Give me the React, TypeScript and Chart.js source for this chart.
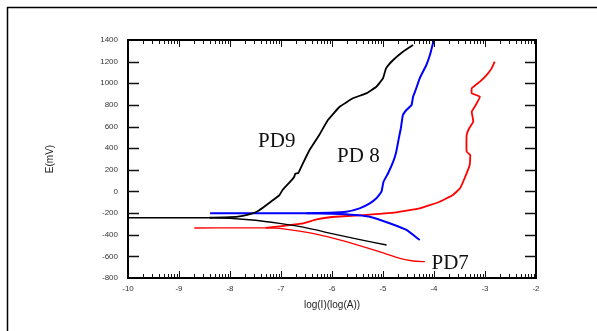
import React, { useEffect, useRef } from "react";
import { Chart, registerables } from "chart.js";

Chart.register(...registerables);

// ---- data (x = log(I), y = E in mV) ----
const pd9Cathodic: [number, number][] = [
  [-10, -243], [-9, -243], [-8.4, -243], [-8.0, -249], [-7.5, -266], [-7.03, -296],
  [-6.54, -333], [-6.05, -385], [-5.5, -440], [-4.93, -495],
];
const pd9Anodic: [number, number][] = [
  [-8.4, -243], [-8.0, -238], [-7.75, -225], [-7.59, -208], [-7.45, -180], [-7.33, -141],
  [-7.2, -95], [-7.03, -33], [-6.97, 13], [-6.8, 100], [-6.74, 136], [-6.72, 165],
  [-6.66, 170], [-6.64, 190], [-6.57, 260], [-6.44, 383], [-6.25, 522], [-6.08, 660],
  [-5.85, 783], [-5.59, 861], [-5.33, 907], [-5.13, 968], [-5.0, 1046], [-4.94, 1138],
  [-4.8, 1215], [-4.61, 1292], [-4.41, 1354],
];
const pd8Anodic: [number, number][] = [
  [-8.39, -202], [-7.5, -202], [-6.5, -201], [-6.05, -197], [-5.72, -187], [-5.46, -156],
  [-5.26, -110], [-5.13, -63], [-5.03, -2], [-4.99, 90], [-4.9, 168], [-4.8, 275],
  [-4.74, 368], [-4.69, 491], [-4.65, 584], [-4.61, 707], [-4.54, 753], [-4.44, 799],
  [-4.41, 876], [-4.36, 938], [-4.28, 1046], [-4.15, 1169], [-4.08, 1261], [-4.02, 1369],
  [-3.99, 1400],
];
const pd8Cathodic: [number, number][] = [
  [-6.5, -202], [-6.0, -205], [-5.72, -211], [-5.26, -233], [-4.87, -294], [-4.54, -356],
  [-4.28, -449],
];
const pd7Cathodic: [number, number][] = [
  [-8.7, -338], [-7.8, -337], [-7.3, -336], [-7.03, -341], [-6.38, -387], [-5.72, -464],
  [-5.07, -557], [-4.67, -618], [-4.41, -643], [-4.18, -649],
];
const pd7Anodic: [number, number][] = [
  [-7.3, -336], [-7.03, -322], [-6.6, -298], [-6.3, -258], [-6.0, -236], [-5.39, -218],
  [-4.74, -193], [-4.28, -156], [-3.89, -95], [-3.63, -33], [-3.49, 29], [-3.4, 122],
  [-3.3, 245], [-3.29, 337], [-3.36, 368], [-3.36, 522], [-3.31, 584], [-3.23, 645],
  [-3.26, 737], [-3.2, 784], [-3.1, 876], [-3.26, 907], [-3.26, 954], [-3.1, 1015],
  [-2.97, 1076], [-2.87, 1138], [-2.81, 1200],
];

const curveLabels = ["PD9", "PD 8", "PD7"];
const curveLabelX = [-7.45, -5.9, -4.05];
const curveLabelY = [462, 323, -667];

const xMin = -10, xMax = -2, xStep = 1;
const yMin = -800, yMax = 1400, yStep = 200;

const xTitle = "log(I)(log(A))";
const yTitle = "E(mV)";

const toPts = (a: [number, number][]) => a.map(([x, y]) => ({ x, y }));

const framePlugin = {
  id: "framePlugin",
  afterDatasetsDraw(chart: any) {
    const { ctx, chartArea: a, scales } = chart;
    const xs = scales.x, ys = scales.y;
    ctx.save();
    // outer page frame
    ctx.strokeStyle = "#000";
    ctx.lineWidth = 1.5;
    ctx.beginPath();
    ctx.moveTo(7.5, 331);
    ctx.lineTo(7.5, 7.5);
    ctx.lineTo(597, 7.5);
    ctx.stroke();
    // plot frame
    ctx.lineWidth = 2;
    ctx.strokeRect(a.left, a.top, a.right - a.left, a.bottom - a.top);
    // y ticks (left & right, inward)
    ctx.lineWidth = 1.5;
    ctx.strokeStyle = "#111";
    for (let v = yMin + yStep; v < yMax; v += yStep) {
      const py = Math.round(ys.getPixelForValue(v)) + 0.5;
      ctx.beginPath();
      ctx.moveTo(a.left, py);
      ctx.lineTo(a.left + 11, py);
      ctx.moveTo(a.right, py);
      ctx.lineTo(a.right - 11, py);
      ctx.stroke();
    }
    // x ticks, log style
    ctx.lineWidth = 1;
    for (let d = xMin; d < xMax; d += xStep) {
      for (let k = 2; k <= 10; k++) {
        const v = d + Math.log10(k);
        const px = Math.round(xs.getPixelForValue(v)) + 0.5;
        const len = k === 10 ? 7 : 4;
        if (k === 10 && v >= xMax) continue;
        ctx.beginPath();
        ctx.moveTo(px, a.bottom);
        ctx.lineTo(px, a.bottom - len);
        ctx.moveTo(px, a.top);
        ctx.lineTo(px, a.top + len);
        ctx.stroke();
      }
    }
    // curve labels
    ctx.fillStyle = "#111";
    ctx.font = "21px 'Liberation Serif', 'Times New Roman', serif";
    ctx.textAlign = "left";
    ctx.textBaseline = "middle";
    curveLabels.forEach((t, i) => {
      ctx.fillText(t, xs.getPixelForValue(curveLabelX[i]), ys.getPixelForValue(curveLabelY[i]));
    });
    ctx.restore();
  },
};

export default function App() {
  const ref = useRef<HTMLCanvasElement>(null);
  useEffect(() => {
    const canvas = ref.current!;
    const ds = (data: [number, number][], color: string, w: number) => ({
      data: toPts(data),
      borderColor: color,
      backgroundColor: color,
      borderWidth: w,
      showLine: true,
      pointRadius: 0,
      tension: 0.1,
      fill: false,
    });
    const tickFont = { family: "'Liberation Sans', Arial, sans-serif", size: 8 };
    const chart = new Chart(canvas, {
      type: "scatter",
      data: {
        datasets: [
          ds(pd9Cathodic, "#000000", 1.3),
          ds(pd9Anodic, "#000000", 1.8),
          ds(pd8Anodic, "#0000ff", 2),
          ds(pd8Cathodic, "#0000ff", 2),
          ds(pd7Cathodic, "#ff0000", 1.3),
          ds(pd7Anodic, "#ff0000", 1.8),
        ],
      },
      options: {
        animation: false,
        responsive: false,
        devicePixelRatio: 1,
        layout: { padding: { left: 0, top: 40, right: 61, bottom: 0 } },
        plugins: { legend: { display: false }, tooltip: { enabled: false } },
        scales: {
          x: {
            type: "linear",
            min: xMin,
            max: xMax,
            ticks: {
              stepSize: xStep,
              padding: 6,
              color: "#333",
              font: tickFont,
              callback: (v: any) => String(v),
            },
            grid: { display: false, drawTicks: false },
            border: { display: false },
            title: {
              display: true,
              text: xTitle,
              color: "#222",
              font: { family: "'Liberation Sans', Arial, sans-serif", size: 10 },
              padding: { top: 0, bottom: 20 },
            },
            afterFit: (s: any) => { s.height = 53; },
          },
          y: {
            type: "linear",
            min: yMin,
            max: yMax,
            ticks: {
              stepSize: yStep,
              padding: 10,
              color: "#333",
              font: tickFont,
              callback: (v: any) => String(v),
            },
            grid: { display: false, drawTicks: false },
            border: { display: false },
            title: {
              display: true,
              text: yTitle,
              color: "#222",
              font: { family: "'Liberation Sans', Arial, sans-serif", size: 10 },
              padding: { top: 44, bottom: 0 },
            },
            afterFit: (s: any) => { s.width = 128; },
          },
        },
      },
      plugins: [framePlugin],
    });
    return () => chart.destroy();
  }, []);
  return (
    <div style={{ position: "fixed", left: 0, top: 0, width: 597, height: 331, background: "#fff" }}>
      <canvas ref={ref} width={597} height={331} />
    </div>
  );
}
